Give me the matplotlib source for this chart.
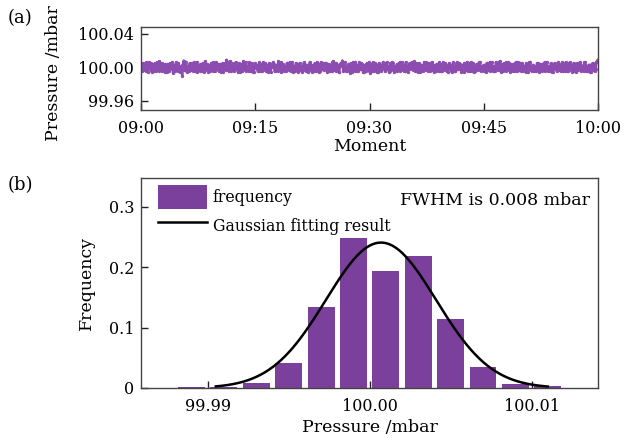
import numpy as np
import matplotlib.pyplot as plt

plt.rcParams['font.family'] = 'DejaVu Serif'

# (a) pressure deviation from 100 mbar, in units of 0.001 mbar, 09:00 -> 10:00
# readings are logged in two interleaved channels (even / odd samples)
dev_even = [2, -3, 4, -5, 1, 6, -2, -6, 3, 5, -4, 0, 7, -3, -5, 2, 4, -6, 1, 5,
            -2, -7, 3, 6, -4, 1, -5, -10, 8, -3, -6, 2, 5, -1, -4, 6, -2, -6, 3, 4,
            -5, 2, 7, -3, -6, 1, 5, -4, 3, 6, -2, -5, 4, 0, -6, 5, 9, -3, 7, -4,
            1, -5, 6, 3, -2, -6, 4, 7, -3, -5, 2, 6, -4, 1, -6, 5, 3, -2, -5, 4,
            6, -3, -4, 2, 5, -6, 0, 4, -5, 3, 7, -2, -6, 4, 1, -4, 5, -3, -5, 6,
            2, -4, 3, -6, 5, 1, -3, 6, -5, 2, -2, 4, -6, 3, 5, -4, 1, -5, 6, -2,
            -3, 5, -6, 4, 2, -5, 7, -1, -4, 3, -6, 5, 8, -3, 2, -5, 4, -7, 3, 6,
            -4, 1, -5, 6, -2, 4, -6, 3, 5, -3, -7, 2, 6, -4, 0, -6, 5, 3, -2, 4,
            -5, 6, 2, -4, -3, 5, -6, 1, 4, -2, -5, 6, 3, -4, 2, -6, 5, -1, -3, 7,
            -4, 3, 5, -6, 2, -3, 4, 6, -5, 1, -2, 5, -6, 3, 4, -5, 2, -4, 6, -3,
            1, -6, 5, 3, -4, 2, -5, 6, -2, 4, -6, 3, 5, -3, -5, 2, 6, -4, 1, -5,
            4, -3, 6, -5, 2, 3, -6, 5, -2, -4, 6, 1, -5, 4, -3, 7, -6, 2, 5, -4,
            -2, 5, -6, 3, 4, -5, 1, 6, -3, -4, 5, 2, -6, 4, -2, 6, -5, 3, 1, -4,
            5, -6, 2, 4, -3, -5, 6, 1, -4, 3, -6, 5, 2, -3, 4, -5, 6, -2, -4, 3,
            -5, 6, 3, -4, 2, -6, 5, -1, 4, -3, -5, 6, 2, -4, 3, -6, 5, 4, -2, 8]
dev_odd = [-4, 5, -1, 6, -6, 0, 5, 3, -5, -2, 6, -4, -1, 5, 3, -6, -2, 4, -5, -1,
           6, 2, -4, -3, 5, -6, 2, 4, -3, 6, 1, -5, -3, 5, 2, -5, 6, 1, -4, -2,
           5, -6, -1, 4, 3, -5, -2, 6, -5, 0, 4, 3, -6, 5, 2, -3, 6, -5, -2, 5,
           -3, 4, -2, -6, 5, 3, -5, 0, 6, 2, -5, -3, 5, -6, 3, -1, -5, 6, 2, -4,
           -2, 5, 3, -6, -3, 4, 6, -5, 2, -4, -1, 6, 3, -5, -3, 5, -2, 6, 2, -6,
           -5, 5, -2, 4, -3, -6, 5, 0, 3, -6, 6, -3, 2, -5, -1, 6, -6, 4, -2, 5,
           5, -2, 3, -5, -4, 6, -3, 5, 2, -6, 4, 1, -5, 6, -4, 3, -1, 5, -6, -2,
           6, -5, 3, -2, 5, -6, 1, -4, -2, 6, 4, -5, -2, 5, -6, 3, -3, -5, 6, -1,
           3, -2, -6, 5, 6, -3, 2, -5, -3, 6, 2, -3, -5, 6, -4, 3, -2, 6, 5, -4,
           5, -6, -2, 3, -5, 6, -3, -2, 5, -4, 6, -3, 2, -5, -3, 6, -5, 4, -2, 5,
           -5, 3, -2, -6, 6, -5, 3, -2, 5, -3, 2, -6, -2, 6, 4, -5, -3, 5, -6, 3,
           -2, 6, -3, 2, -5, -4, 5, -3, 6, 3, -4, -5, 6, -2, 5, -3, 4, -5, -2, 6,
           6, -3, 4, -5, -2, 6, -4, -3, 5, 4, -5, -3, 5, -6, 6, -3, 2, -5, -3, 5,
           -3, 4, -5, -2, 6, 3, -4, -2, 5, -6, 3, -2, -5, 6, -2, 3, -4, 5, 6, -5,
           4, -3, -6, 5, -5, 4, -3, 6, -5, 2, 6, -4, -5, 3, -6, 4, -3, -5, 6, 9]
time_labels = ['09:00', '09:15', '09:30', '09:45', '10:00']
time_ticks = [0, 15, 30, 45, 60]

# (b) histogram of pressure readings
bin_centers = [99.989, 99.991, 99.993, 99.995, 99.997, 99.999,
               100.001, 100.003, 100.005, 100.007, 100.009, 100.011]
freq = [0.002, 0.002, 0.009, 0.041, 0.134, 0.248,
        0.194, 0.218, 0.115, 0.034, 0.006, 0.003]
bin_width = 0.002
fit_center = 100.0007
fit_peak = 0.241
fwhm = 0.008

purple = '#7b3f9c'
trace = '#8c4cb0'

dev = np.column_stack([dev_even, dev_odd]).ravel()
minutes = np.linspace(0, 60, len(dev))
pressure = 100.0 + dev * 0.001

fig = plt.figure(figsize=(6.41, 4.41), dpi=100)
ax1 = fig.add_axes([141/641, 1 - 110/441, 457/641, 83/441])
ax2 = fig.add_axes([141/641, 1 - 388/441, 457/641, 210/441])

ax1.plot(minutes, pressure, color=trace, lw=1.7, marker='o', ms=2.4, mew=0)
ax1.set_xlim(0, 60)
ax1.set_ylim(99.949, 100.048)
ax1.set_yticks([99.96, 100.00, 100.04])
ax1.set_yticklabels(['99.96', '100.00', '100.04'])
ax1.set_xticks(time_ticks)
ax1.set_xticklabels(time_labels)
ax1.set_xlabel('Moment', fontsize=12.5, labelpad=1)
ax1.set_ylabel('Pressure /mbar', fontsize=12.5)
ax1.yaxis.set_label_coords(-0.172, 0.44)

bars = ax2.bar(bin_centers, freq, width=bin_width * 0.83, color=purple,
               label='frequency')
xs = np.linspace(99.9905, 100.011, 400)
sigma = fwhm / (2 * np.sqrt(2 * np.log(2)))
line, = ax2.plot(xs, fit_peak * np.exp(-(xs - fit_center)**2 / (2 * sigma**2)),
                 color='black', lw=1.8, label='Gaussian fitting result')
ax2.set_xlim(99.98588, 100.0141)
ax2.set_ylim(0, 0.348)
ax2.set_xticks([99.99, 100.00, 100.01])
ax2.set_xticklabels(['99.99', '100.00', '100.01'])
ax2.set_yticks([0, 0.1, 0.2, 0.3])
ax2.set_yticklabels(['0', '0.1', '0.2', '0.3'])
ax2.set_xlabel('Pressure /mbar', fontsize=12.5, labelpad=3)
ax2.set_ylabel('Frequency', fontsize=12.5, labelpad=10)
ax2.legend([bars, line], ['frequency', 'Gaussian fitting result'],
           loc='upper left', bbox_to_anchor=(0.027, 0.99), frameon=False,
           fontsize=11.3, handlelength=3.1, handleheight=2.0,
           handletextpad=0.4, labelspacing=0.3, borderaxespad=0,
           borderpad=0.3)
ax2.text(0.983, 0.895, 'FWHM is 0.008 mbar', transform=ax2.transAxes,
         ha='right', va='center', fontsize=12.5)

for ax in (ax1, ax2):
    ax.tick_params(direction='in', length=5, width=1, labelsize=11.5,
                   colors='#222222', labelcolor='black')
    ax.tick_params(axis='x', pad=7)
    ax.tick_params(axis='y', pad=5)
    for s in ax.spines.values():
        s.set_color('#444444')
        s.set_linewidth(1)

fig.text(8/641, 1 - 18/441, '(a)', fontsize=13, va='center')
fig.text(8/641, 1 - 185/441, '(b)', fontsize=13, va='center')

fig.savefig('out.png', dpi=100)
